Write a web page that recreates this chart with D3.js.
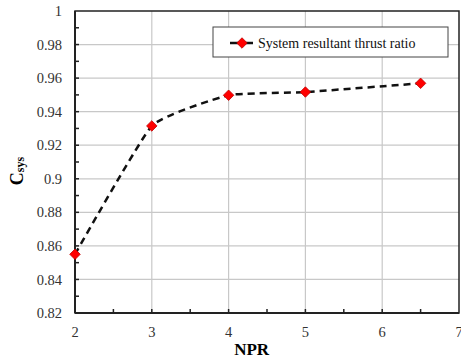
<!DOCTYPE html>
<html>
<head>
<meta charset="utf-8">
<script src="https://cdn.jsdelivr.net/npm/d3@7"></script>
<style>
  body { margin: 0; background: #fff; }
  svg { font-family: "Liberation Serif", "Times New Roman", serif; }
</style>
</head>
<body>
<svg width="461" height="359"></svg>
<script>
// data
const npr = [2, 3, 4, 5, 6.5];
const csys = [0.855, 0.9315, 0.9498, 0.9517, 0.9569];
const xTicks = [2, 3, 4, 5, 6, 7];
const yTicks = [0.82, 0.84, 0.86, 0.88, 0.9, 0.92, 0.94, 0.96, 0.98, 1];
const seriesName = "System resultant thrust ratio";

const data = npr.map((d, i) => ({x: d, y: csys[i]}));

const svg = d3.select("svg");
const margin = {top: 11, right: 2, bottom: 46, left: 75};
const width = 461 - margin.left - margin.right;
const height = 359 - margin.top - margin.bottom;
const g = svg.append("g").attr("transform", `translate(${margin.left},${margin.top})`);

const x = d3.scaleLinear().domain([2, 7]).range([0, width]);
const y = d3.scaleLinear().domain([0.82, 1]).range([height, 0]);

// grid
g.append("g")
  .selectAll("line")
  .data(yTicks.slice(1, -1))
  .join("line")
  .attr("x1", 0).attr("x2", width)
  .attr("y1", d => y(d)).attr("y2", d => y(d))
  .attr("stroke", "#c8c8c8").attr("stroke-width", 1.2);
g.append("g")
  .selectAll("line")
  .data(xTicks.slice(1, -1))
  .join("line")
  .attr("y1", 0).attr("y2", height)
  .attr("x1", d => x(d)).attr("x2", d => x(d))
  .attr("stroke", "#c8c8c8").attr("stroke-width", 1.2);

// frame
g.append("rect")
  .attr("width", width).attr("height", height)
  .attr("fill", "none").attr("stroke", "#222").attr("stroke-width", 1.5);

// minor ticks (inside)
const xMinor = d3.range(2.5, 7, 1);
g.append("g").selectAll("line")
  .data(xMinor.concat(xTicks.slice(1, -1)))
  .join("line")
  .attr("x1", d => x(d)).attr("x2", d => x(d))
  .attr("y1", height).attr("y2", height - 4)
  .attr("stroke", "#222").attr("stroke-width", 1.5);
const yMinor = d3.range(0.83, 1, 0.02);
g.append("g").selectAll("line")
  .data(yMinor.concat(yTicks.slice(1, -1)))
  .join("line")
  .attr("y1", d => y(d)).attr("y2", d => y(d))
  .attr("x1", 0).attr("x2", 4)
  .attr("stroke", "#222").attr("stroke-width", 1.5);

// axis lines thicker
g.append("line").attr("x1", 0).attr("x2", 0).attr("y1", 0).attr("y2", height)
  .attr("stroke", "#222").attr("stroke-width", 2);
g.append("line").attr("x1", 0).attr("x2", width).attr("y1", height).attr("y2", height)
  .attr("stroke", "#222").attr("stroke-width", 2);

// tick labels
g.append("g").selectAll("text")
  .data(yTicks)
  .join("text")
  .attr("x", -13).attr("y", d => y(d))
  .attr("dy", "0.35em")
  .attr("text-anchor", "end")
  .attr("font-size", 14.5)
  .attr("fill", "#333")
  .text(d => +d.toFixed(2));
g.append("g").selectAll("text")
  .data(xTicks)
  .join("text")
  .attr("x", d => x(d)).attr("y", height + 24)
  .attr("text-anchor", "middle")
  .attr("font-size", 14.5)
  .attr("fill", "#333")
  .text(d => d);

// axis titles
svg.append("text")
  .attr("x", margin.left + x(4.3)).attr("y", 355)
  .attr("text-anchor", "middle")
  .attr("font-size", 17).attr("font-weight", "bold")
  .text("NPR");
const yt = svg.append("text")
  .attr("transform", "translate(23,171) rotate(-90)")
  .attr("text-anchor", "middle")
  .attr("font-size", 18).attr("font-weight", "bold");
yt.append("tspan").text("C");
yt.append("tspan").attr("font-size", 12).attr("dy", 1).text("sys");

// series line (lightly smoothed like the original)
const line = d3.line()
  .x(d => x(d.x))
  .y(d => y(d.y))
  .curve(d3.curveCardinal.tension(0.6));
g.append("path")
  .datum(data)
  .attr("d", line)
  .attr("fill", "none")
  .attr("stroke", "#111")
  .attr("stroke-width", 2.5)
  .attr("stroke-dasharray", "7,5");

const diamond = d3.symbol().type(d3.symbolDiamond2).size(70);
g.append("g").selectAll("path")
  .data(data)
  .join("path")
  .attr("transform", d => `translate(${x(d.x)},${y(d.y)})`)
  .attr("d", diamond)
  .attr("fill", "#ff0000")
  .attr("stroke", "#c00000")
  .attr("stroke-width", 0.8);

// legend
const lg = svg.append("g").attr("transform", "translate(213,27)");
lg.append("rect")
  .attr("width", 235).attr("height", 30)
  .attr("fill", "#fff").attr("stroke", "#444").attr("stroke-width", 1);
lg.append("line")
  .attr("x1", 17).attr("x2", 40).attr("y1", 16).attr("y2", 16)
  .attr("stroke", "#111").attr("stroke-width", 2.5);
lg.append("path")
  .attr("transform", "translate(29,16)")
  .attr("d", diamond)
  .attr("fill", "#ff0000")
  .attr("stroke", "#c00000")
  .attr("stroke-width", 0.8);
lg.append("text")
  .attr("x", 45).attr("y", 16).attr("dy", "0.35em")
  .attr("font-size", 14)
  .attr("fill", "#111")
  .text(seriesName);
</script>
</body>
</html>
